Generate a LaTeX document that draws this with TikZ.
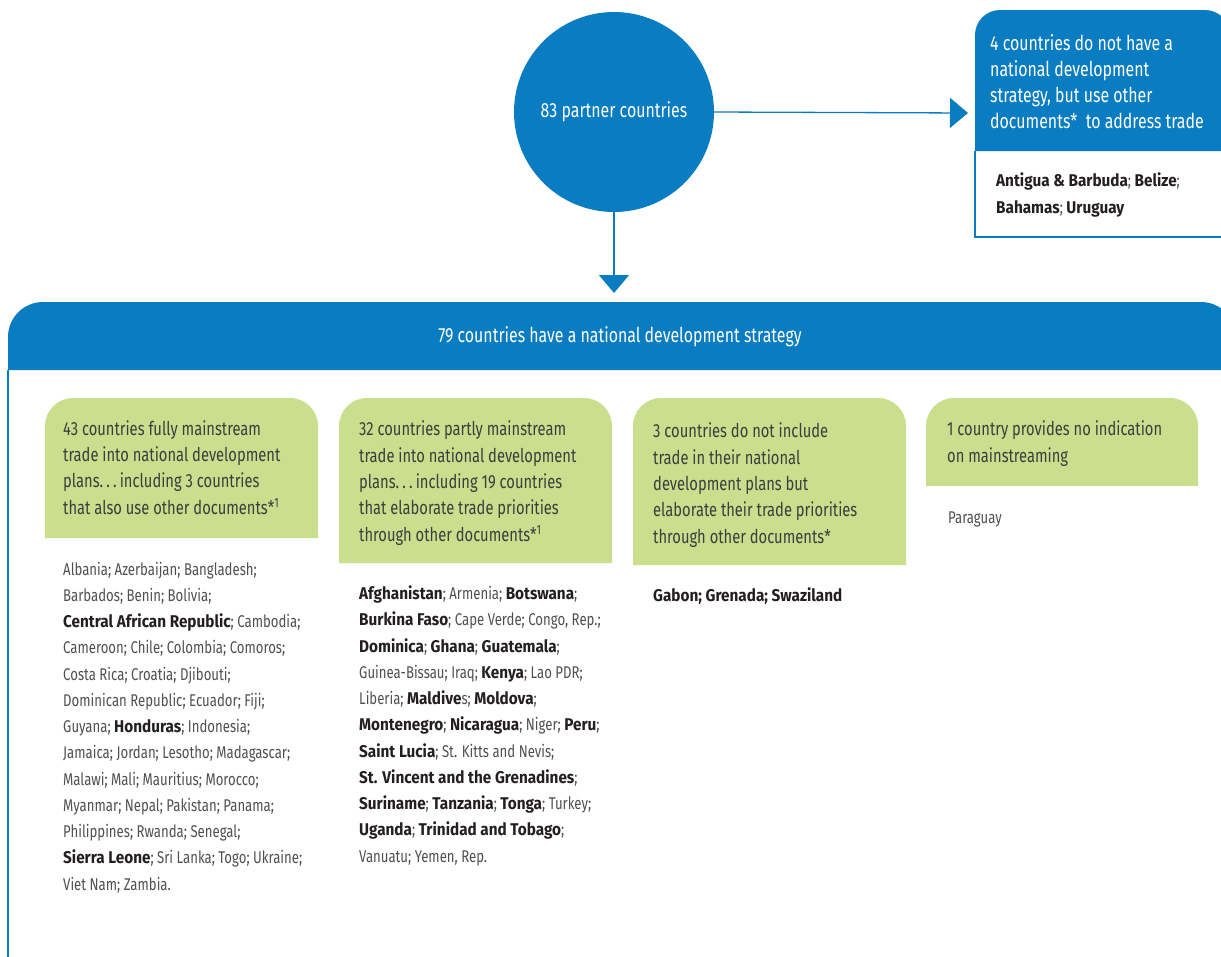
\documentclass[tikz,border=0pt]{standalone}
\usepackage{fontspec}
\setmainfont{Fira Sans}[FakeStretch=0.775, BoldFeatures={FakeStretch=0.9}]
\usepackage{tikz}
\usetikzlibrary{arrows.meta}
\definecolor{nblue}{HTML}{0A7CC2}
\definecolor{ngreen}{HTML}{C9DF8E}
\definecolor{ntext}{HTML}{3D3D3D}
\definecolor{nlist}{HTML}{4F4F4F}
\definecolor{nbold}{HTML}{231F20}
\tikzset{
  headtxt/.style={text=white, font=\fontsize{20.5}{26}\selectfont},
  greentxt/.style={anchor=base west, inner sep=0pt, align=left, text=ntext, font=\fontsize{19}{26.3}\selectfont},
  listtxt/.style={anchor=base west, inner sep=0pt, align=left, text=nlist, font=\fontsize{17}{26.25}\selectfont},
  link/.style={draw=nblue, line width=1.3pt, -{Triangle[width=30pt,length=18pt]}}
}
\newcommand{\bn}[1]{\textcolor{nbold}{\textbf{#1}}}

\begin{document}
\begin{tikzpicture}[x=1pt, y=-1pt]
		\useasboundingbox (0,0) rectangle (1221,956);
		% top circle and the two ways out
		\node[circle, fill=nblue, minimum size=200pt, inner sep=0pt, headtxt] (circ) at (614,112) {83 partner countries};
		\coordinate (rtip) at (968,113);
		\coordinate (dtip) at (614,293);
		\draw[link] (circ.east) -- (rtip);
		\draw[link] (circ.south) -- (dtip);
		% box at the right
		\fill[nblue] (975,151) [rounded corners=25pt]-- (975,10) -- (1230,10) [sharp corners]-- (1230,151) -- cycle;
		\draw[nblue, line width=1.5pt] (975,151) -- (975,237) -- (1240,237);
		\node[greentxt, headtxt, anchor=base west] (nostrat) at (990,128) {4 countries do not have a\\national development\\strategy, but use other\\documents*~ to address trade};
		\node[listtxt] (nolist) at (996,213) {\bn{Antigua \& Barbuda}; \bn{Belize};\\\bn{Bahamas}; \bn{Uruguay}};
		% big box
		\fill[nblue] (8,370) [rounded corners=35pt]-- (8,302) -- (1236,302) [sharp corners]-- (1236,370) -- cycle;
		\draw[nblue, line width=2pt] (8,370) -- (8,960);
		\node[headtxt] (strat) at (620,337) {79 countries have a national development strategy};
		\foreach \xa/\xb/\yb in {45/318/538, 339/612/563, 633/906/565, 926/1198/486}
			\fill[ngreen] (\xa,\yb) [rounded corners=28pt]-- (\xa,398) -- (\xb,398) [sharp corners]-- (\xb,\yb) -- cycle;
		\node[greentxt] (full) at (63,514) {43 countries fully mainstream\\trade into national development\\plans.\,.\,.\,including 3 countries\\that also use other documents*\textsuperscript{1}};
		\node[greentxt] (part) at (359,541) {32 countries partly mainstream\\trade into national development\\plans.\,.\,.\,including 19 countries\\that elaborate trade priorities\\through other documents*\textsuperscript{1}};
		\node[greentxt] (none) at (653,543) {3 countries do not include\\trade in their national\\development plans but\\elaborate their trade priorities\\through other documents*};
		\node[greentxt] (noind) at (947,462) {1 country provides no indication\\on mainstreaming};
		% country lists
		\node[listtxt] (fulllist) at (63,890) {Albania; Azerbaijan; Bangladesh;\\Barbados; Benin; Bolivia;\\\bn{Central African Republic}; Cambodia;\\Cameroon; Chile; Colombia; Comoros;\\Costa Rica; Croatia; Djibouti;\\Dominican Republic; Ecuador; Fiji;\\Guyana; \bn{Honduras}; Indonesia;\\Jamaica; Jordan; Lesotho; Madagascar;\\Malawi; Mali; Mauritius; Morocco;\\Myanmar; Nepal; Pakistan; Panama;\\Philippines; Rwanda; Senegal;\\\bn{Sierra Leone}; Sri Lanka; Togo; Ukraine;\\Viet Nam; Zambia.};
		\node[listtxt] (partlist) at (359,862) {\bn{Afghanistan}; Armenia; \bn{Botswana};\\\bn{Burkina Faso}; Cape Verde; Congo, Rep.;\\\bn{Dominica}; \bn{Ghana}; \bn{Guatemala};\\Guinea-Bissau; Iraq; \bn{Kenya}; Lao PDR;\\Liberia; \bn{Maldive}s; \bn{Moldova};\\\bn{Montenegro}; \bn{Nicaragua}; Niger; \bn{Peru};\\\bn{Saint Lucia}; St. Kitts and Nevis;\\\bn{St. Vincent and the Grenadines};\\\bn{Suriname}; \bn{Tanzania}; \bn{Tonga}; Turkey;\\\bn{Uganda}; \bn{Trinidad and Tobago};\\Vanuatu; Yemen, Rep.};
		\node[listtxt] (nonelist) at (653,601) {\bn{Gabon; Grenada; Swaziland}};
		\node[listtxt] (noindlist) at (948,523) {Paraguay};
		\end{tikzpicture}
\end{document}
